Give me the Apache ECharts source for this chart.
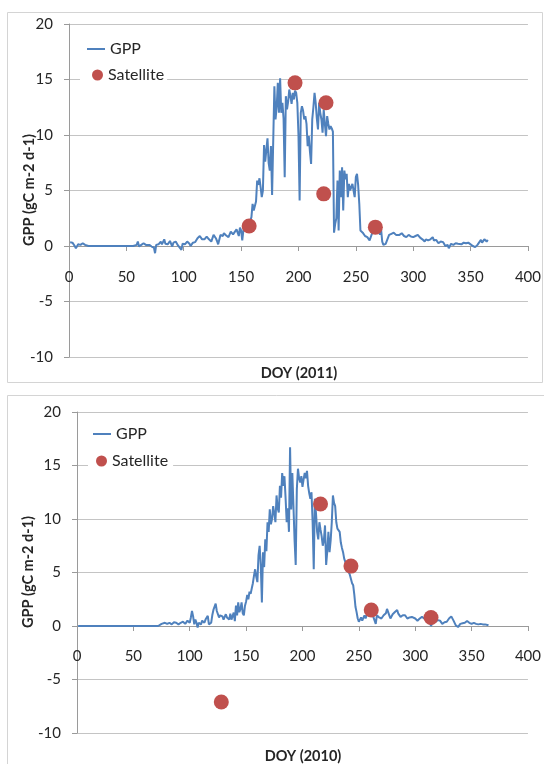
<!DOCTYPE html>
<html>
<head>
<meta charset="utf-8">
<script src="https://cdn.jsdelivr.net/npm/echarts@6/dist/echarts.min.js"></script>
<style>
html,body{margin:0;padding:0;background:#fff;}
#chart{width:544px;height:764px;}
</style>
</head>
<body>
<div id="chart"></div>
<script>
// ---- Data ----
const xTicks = [0, 50, 100, 150, 200, 250, 300, 350, 400];
const yTicks = [-10, -5, 0, 5, 10, 15, 20];
const titles = { top: 'DOY (2011)', bottom: 'DOY (2010)', yName: 'GPP (gC m-2 d-1)' };
const seriesNames = ['GPP', 'Satellite'];

// GPP 2011: [DOY, gC m-2 d-1]
const gpp2011 = [[1,0.33],[3,0.3],[5,0.0],[6,-0.2],[8,0.15],[10,0.1],[12,0.25],[14,0.1],[15,0.25],[17,0.0],[18,0],[56,0],[57,0.15],[59,0.1],[60,0.4],[61,-0.05],[63,0.1],[65,0.25],[67,0.1],[70,0.1],[72,-0.05],[74,-0.15],[75,-0.65],[76,0.1],[78,0.15],[80,0.4],[81,0.15],[83,0.6],[84,0.2],[86,0.15],[88,0.45],[90,-0.05],[91,0.3],[93,0.4],[95,0.05],[96,0.2],[98,-0.35],[99,0.2],[101,0.15],[103,0.4],[105,0.2],[106,0.0],[108,0.3],[110,0.35],[112,0.7],[114,0.9],[116,0.6],[118,0.6],[120,0.85],[122,0.6],[124,0.4],[126,1.0],[128,0.7],[129,0.45],[130,0.15],[132,1.0],[134,0.9],[135,1.15],[137,0.95],[139,0.8],[141,1.3],[143,1.05],[144,0.9],[146,1.5],[147,1.2],[148,0.9],[149,1.65],[150,1.4],[151,0.5],[152,1.4],[153,1.7],[154,1.6],[156,2.0],[158,2.3],[159,2.6],[160,3.8],[161,3.2],[162,3.2],[163,4.0],[164,5.9],[165,5.5],[166,6.1],[167,5.3],[168,4.4],[169,5.0],[170,9.1],[171,7.6],[172,7.7],[173,9.7],[174,7.5],[175,6.8],[176,9.0],[177,4.6],[178,4.7],[179,14.4],[180,11.4],[181,12.5],[182,14.7],[183,12.0],[184,15.1],[185,12.0],[186,12.9],[187,11.5],[188,6.2],[189,13.5],[190,12.3],[191,13.0],[192,14.1],[193,13.5],[194,12.8],[195,13.8],[196,13.2],[197,14.0],[198,13.8],[199,12.9],[200,10],[201,4.1],[202,12.0],[203,12.6],[204,12.2],[205,11.4],[206,11.7],[207,11.0],[208,9.0],[209,9.9],[210,8.5],[211,7.4],[212,11.4],[213,12.5],[214,13.8],[215,12.9],[216,11.5],[217,10.5],[218,12.9],[219,12.0],[220,11.4],[221,10.2],[222,12.3],[223,11.0],[224,9.9],[225,11.7],[226,11.0],[227,10.5],[228,10.8],[229,10.6],[230,10.3],[231,1.2],[232,2.0],[233,2.5],[234,5.9],[235,1.4],[236,6.8],[237,4.4],[238,7.1],[239,3.2],[240,6.8],[241,6.0],[242,6.5],[243,4.4],[244,5.6],[245,5.0],[246,5.3],[247,5.6],[248,5.0],[249,4.4],[250,6.2],[251,6.5],[252,5.5],[253,3.8],[254,1.4],[256,1.2],[258,0.9],[260,0.8],[262,0.5],[263,0.4],[264,1.1],[266,1.3],[267,1.5],[269,1.4],[270,1.7],[271,1.0],[272,1.5],[273,0.4],[274,0.1],[275,-0.05],[276,0.2],[277,0.1],[279,1.0],[281,1.1],[283,1.2],[285,1.0],[288,1.0],[290,1.15],[292,0.9],[294,0.8],[296,1.0],[298,0.85],[300,0.8],[302,0.9],[304,1.0],[306,0.75],[308,0.6],[310,0.4],[311,0.6],[313,0.5],[315,0.6],[317,0.8],[318,0.5],[320,0.55],[322,0.25],[324,0.4],[326,0.35],[328,0.0],[330,0.1],[331,-0.2],[333,0.2],[335,0.1],[337,0.25],[339,0.2],[340,0.3],[342,0.15],[344,0.3],[346,0.25],[348,0.3],[350,0.15],[352,0.0],[354,-0.1],[356,0.1],[357,0.2],[359,0.55],[360,0.3],[362,0.6],[364,0.4],[365,0.55]];

// GPP 2010: [DOY, gC m-2 d-1]
const gpp2010 = [[1,0],[72,0],[73,0.15],[75,0.2],[76,0.1],[78,0.3],[80,0.2],[82,0.3],[84,0.15],[86,0.35],[88,0.3],[90,0.15],[92,0.3],[94,0.4],[96,0.2],[97,0.1],[98,0.5],[100,0.3],[101,0.8],[102,1.4],[103,0.9],[104,0.15],[105,0.6],[106,0.3],[107,-0.15],[108,0.3],[110,0.15],[111,0.5],[113,0.3],[114,0.6],[116,0.95],[117,0.15],[119,0.3],[120,1.0],[121,1.5],[123,2.1],[124,1.4],[126,0.8],[127,1.0],[129,0.9],[130,0.6],[132,1.1],[133,0.8],[135,0.6],[136,1.15],[137,0.6],[139,1.25],[140,0.45],[141,1.9],[142,1.0],[143,2.2],[144,1.3],[145,1.6],[146,2.2],[147,1.2],[148,1.0],[149,1.9],[150,2.3],[151,2.9],[152,2.5],[153,3.2],[154,3.0],[155,3.5],[156,4.0],[157,4.7],[158,5.3],[159,4.6],[160,4.1],[161,6.6],[162,7.5],[163,5.7],[164,2.2],[165,6.9],[166,5.5],[167,8.1],[168,7.0],[169,9.7],[170,8.8],[171,10.9],[172,9.5],[173,10.0],[174,11.2],[175,10.5],[176,9.7],[177,12.2],[178,11.0],[179,10.6],[180,13.1],[181,12.0],[182,14.3],[183,13.1],[184,14.0],[185,12.0],[186,9.7],[187,11.0],[188,8.8],[189,16.7],[190,10.9],[191,14.3],[192,11.2],[193,8.0],[194,5.7],[195,12.8],[196,14.7],[197,13.8],[198,13.4],[199,14.0],[200,13.0],[201,13.7],[202,14.3],[203,13.8],[204,14.5],[205,13.1],[206,12.4],[207,11.9],[208,12.5],[209,9.7],[210,5.3],[211,11.9],[212,10.5],[213,8.8],[214,8.1],[215,9.7],[216,9.0],[217,8.4],[218,7.5],[219,8.0],[220,9.4],[221,5.7],[222,7.0],[223,8.8],[224,6.9],[225,8.0],[226,9.7],[227,12.2],[228,11.5],[229,11.2],[230,9.7],[231,9.1],[232,9.0],[233,8.8],[234,7.8],[235,7.3],[236,6.9],[237,6.3],[238,6.0],[239,5.7],[240,5.3],[242,4.8],[243,4.4],[244,4.0],[245,3.8],[246,2.9],[247,1.8],[248,1.3],[249,0.7],[250,0.4],[251,0.3],[252,0.8],[253,0.5],[255,1.0],[256,0.7],[258,1.3],[260,1.1],[261,1.3],[263,0.8],[264,0.7],[265,0.2],[266,1.0],[268,0.8],[270,0.7],[272,1.0],[274,1.2],[275,1.6],[277,1.0],[278,0.7],[280,1.1],[282,1.3],[284,1.5],[285,1.15],[287,0.85],[289,1.0],[291,1.0],[293,0.7],[295,0.8],[297,0.85],[300,0.7],[302,0.5],[304,0.7],[306,0.85],[308,0.7],[310,0.75],[312,0.6],[314,0.0],[316,0.5],[318,0.4],[320,0.55],[322,0.5],[324,0.2],[326,0.35],[328,0.4],[330,0.7],[332,0.9],[334,0.5],[336,0.06],[338,-0.1],[340,0.2],[342,0.25],[344,0.3],[346,0.47],[348,0.3],[350,0.2],[352,0.3],[354,0.2],[356,0.15],[358,0.2],[360,0.15],[362,0.15],[364,0.1],[365,0.05]];

// Satellite estimates: [DOY, gC m-2 d-1]
const sat2011 = [[157,1.8],[197,14.7],[222,4.7],[224,12.9],[267,1.7]];
const sat2010 = [[128,-7.1],[216,11.4],[243,5.6],[261,1.5],[314,0.8]];

// ---- Chart ----
const FONT = 'Lato, "Open Sans", sans-serif';
const TXT = '#262626';
const AXIS = '#9a9a9a';
const GRIDC = '#c4c4c4';
const LINE = '#4f81bd';
const DOT = '#c0504d';

const grids = [
  { left: 69, top: 24, width: 460, height: 333 },
  { left: 77, top: 412, width: 453, height: 321 }
];
const yMin = yTicks[0], yMax = yTicks[yTicks.length - 1];
// distance (px) from the grid bottom up to the value 0 line, so the x axis sits on zero
function zeroOffset(g) { return -g.height * (0 - yMin) / (yMax - yMin); }

function xAx(gi, margin) {
  return {
    type: 'value', gridIndex: gi,
    min: xTicks[0], max: xTicks[xTicks.length - 1], interval: xTicks[1] - xTicks[0],
    offset: zeroOffset(grids[gi]),
    axisLine: { show: true, onZero: false, lineStyle: { color: AXIS, width: 1 } },
    axisTick: { show: true, length: 5, lineStyle: { color: AXIS } },
    splitLine: { show: false },
    axisLabel: { fontSize: 15, color: TXT, fontFamily: FONT, margin: margin }
  };
}
function yAx(gi) {
  return {
    type: 'value', gridIndex: gi,
    min: yMin, max: yMax, interval: yTicks[1] - yTicks[0],
    axisLine: { show: true, onZero: false, lineStyle: { color: AXIS, width: 1 } },
    axisTick: { show: true, length: 5, lineStyle: { color: AXIS } },
    splitLine: { show: true, lineStyle: { color: GRIDC, width: 1 } },
    axisLabel: { fontSize: 15, color: TXT, fontFamily: FONT, margin: 16 }
  };
}

const legendText = { fontSize: 16, color: TXT, fontFamily: FONT };
const titleFont = 'bold 14.5px ' + FONT;

const option = {
  animation: false,
  backgroundColor: '#fff',
  grid: grids,
  xAxis: [xAx(0, 24), xAx(1, 23)],
  yAxis: [yAx(0), yAx(1)],
  legend: [
    { data: [{ name: seriesNames[0], icon: 'rect' }], left: 87, top: 41, padding: 0,
      itemWidth: 18, itemHeight: 2, textStyle: legendText, selectedMode: false },
    { data: [{ name: seriesNames[1], icon: 'circle' }], left: 80, top: 63, padding: [4, 3, 4, 12],
      backgroundColor: '#fff', itemWidth: 11, itemHeight: 11, textStyle: legendText, selectedMode: false },
    { data: [{ name: seriesNames[0], icon: 'rect' }], left: 93, top: 426, padding: 0,
      itemWidth: 18, itemHeight: 2, textStyle: legendText, selectedMode: false },
    { data: [{ name: seriesNames[1], icon: 'circle' }], left: 88, top: 449, padding: [4, 5, 4, 8],
      backgroundColor: '#fff', itemWidth: 11, itemHeight: 11, textStyle: legendText, selectedMode: false }
  ],
  graphic: [
    { type: 'rect', shape: { x: 7.5, y: 12.5, width: 535, height: 370 },
      style: { fill: 'none', stroke: '#d4d4d4', lineWidth: 1 }, silent: true, z: -1 },
    { type: 'rect', shape: { x: 7.5, y: 395.5, width: 545, height: 380 },
      style: { fill: 'none', stroke: '#d4d4d4', lineWidth: 1 }, silent: true, z: -1 },
    { type: 'text', x: 299, y: 373, style: { text: titles.top, font: titleFont, fill: TXT, textAlign: 'center', textVerticalAlign: 'middle' } },
    { type: 'text', x: 303, y: 756, style: { text: titles.bottom, font: titleFont, fill: TXT, textAlign: 'center', textVerticalAlign: 'middle' } },
    { type: 'text', x: 29, y: 190, rotation: Math.PI / 2, style: { text: titles.yName, font: titleFont, fill: TXT, textAlign: 'center', textVerticalAlign: 'middle' } },
    { type: 'text', x: 28, y: 572, rotation: Math.PI / 2, style: { text: titles.yName, font: titleFont, fill: TXT, textAlign: 'center', textVerticalAlign: 'middle' } }
  ],
  series: [
    { name: seriesNames[0], type: 'line', xAxisIndex: 0, yAxisIndex: 0, data: gpp2011,
      showSymbol: false, symbol: 'none', lineStyle: { color: LINE, width: 2 }, itemStyle: { color: LINE }, z: 2 },
    { name: seriesNames[1], type: 'scatter', xAxisIndex: 0, yAxisIndex: 0, data: sat2011,
      symbolSize: 15, itemStyle: { color: DOT, opacity: 1 }, z: 3 },
    { name: seriesNames[0], type: 'line', xAxisIndex: 1, yAxisIndex: 1, data: gpp2010,
      showSymbol: false, symbol: 'none', lineStyle: { color: LINE, width: 2 }, itemStyle: { color: LINE }, z: 2 },
    { name: seriesNames[1], type: 'scatter', xAxisIndex: 1, yAxisIndex: 1, data: sat2010,
      symbolSize: 15, itemStyle: { color: DOT, opacity: 1 }, z: 3 }
  ]
};

const chart = echarts.init(document.getElementById('chart'), null, { renderer: 'canvas' });
chart.setOption(option);
</script>
</body>
</html>
